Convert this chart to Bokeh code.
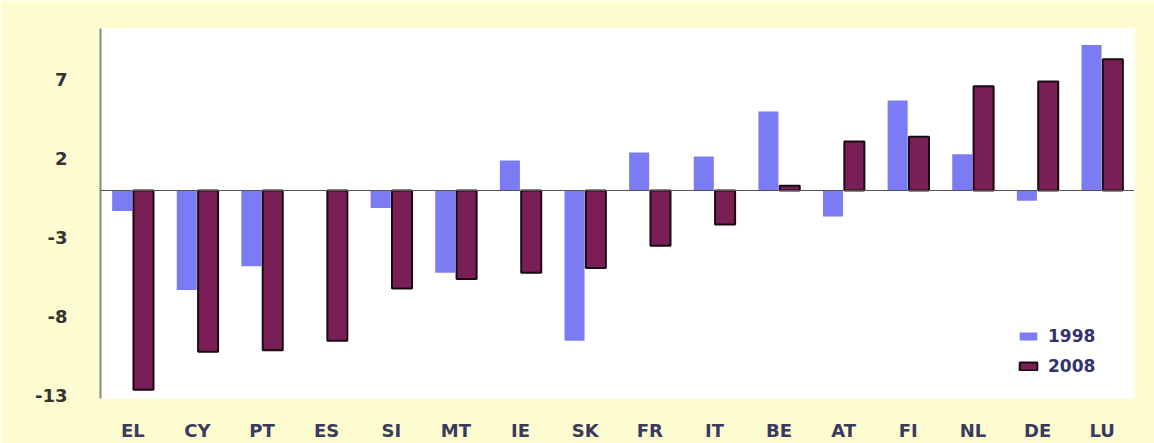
from bokeh.plotting import figure
from bokeh.models import (ColumnDataSource, FactorRange, Range1d, FixedTicker, Span, Legend,
                          LegendItem, PrintfTickFormatter, BoxAnnotation)
from bokeh.transform import dodge
from bokeh.embed import file_html
from bokeh.resources import INLINE

countries = ["EL", "CY", "PT", "ES", "SI", "MT", "IE", "SK", "FR", "IT", "BE", "AT", "FI", "NL", "DE", "LU"]
values_1998 = [-1.3, -6.3, -4.8, 0.0, -1.1, -5.2, 1.9, -9.5, 2.4, 2.15, 5.0, -1.65, 5.7, 2.3, -0.65, 9.2]
values_2008 = [-12.6, -10.2, -10.1, -9.5, -6.2, -5.6, -5.2, -4.9, -3.5, -2.15, 0.3, 3.1, 3.4, 6.6, 6.9, 8.3]
y_ticks = [-13, -8, -3, 2, 7]

source = ColumnDataSource(dict(cat=countries, y1998=values_1998, y2008=values_2008))

CREAM = "#FDFBD0"
p = figure(x_range=FactorRange(*countries), y_range=Range1d(-13.16, 10.25),
           width=1154, height=443, output_backend="svg", toolbar_location=None,
           min_border_left=100, min_border_right=20, min_border_top=28, min_border_bottom=45)
p.border_fill_color = CREAM
p.background_fill_color = "white"
p.outline_line_color = None
p.xgrid.grid_line_color = None
p.ygrid.grid_line_color = None
p.x_range.range_padding = 0
p.x_range.factor_padding = 0

# white outer margins around the cream panel
for l, r, t, b in [(0, 1154, 0, 8), (0, 7, 0, 443), (1150, 1154, 0, 443), (0, 1154, 438, 443)]:
    p.add_layout(BoxAnnotation(left=l, right=r, top=t, bottom=b, left_units="canvas",
                               right_units="canvas", top_units="canvas", bottom_units="canvas",
                               fill_color="white", fill_alpha=1, line_color=None, level="underlay"))

r1 = p.vbar(x=dodge("cat", -0.165, range=p.x_range), top="y1998", bottom=0, width=0.31,
            source=source, fill_color="#7B7BF4", line_color=None)
r2 = p.vbar(x=dodge("cat", 0.165, range=p.x_range), top="y2008", bottom=0, width=0.31,
            source=source, fill_color="#7A1F55", line_color="#1a0a14", line_width=2)

p.add_layout(Span(location=0, dimension="width", line_color="#555555", line_width=1.2))

p.yaxis.ticker = FixedTicker(ticks=y_ticks)
p.yaxis.formatter = PrintfTickFormatter(format="%d")
p.yaxis.axis_line_color = "#8a8a80"
p.yaxis.axis_line_width = 2
p.yaxis.major_tick_line_color = None
p.yaxis.minor_tick_line_color = None
p.yaxis.major_label_text_font = "DejaVu Sans"
p.yaxis.major_label_text_font_style = "bold"
p.yaxis.major_label_text_font_size = "18px"
p.yaxis.major_label_text_color = "#333333"
p.yaxis.major_label_standoff = 27

p.xaxis.axis_line_color = None
p.xaxis.major_tick_line_color = None
p.xaxis.minor_tick_line_color = None
p.xaxis.major_label_text_font = "DejaVu Sans"
p.xaxis.major_label_text_font_style = "bold"
p.xaxis.major_label_text_font_size = "18px"
p.xaxis.major_label_text_color = "#3a3a5e"
p.xaxis.major_label_standoff = 15

legend = Legend(items=[LegendItem(label="1998", renderers=[r1]), LegendItem(label="2008", renderers=[r2])],
                location=(917, 22), background_fill_alpha=0, border_line_color=None,
                label_text_font="DejaVu Sans", label_text_font_style="bold", label_text_font_size="17px",
                label_text_color="#33336b", glyph_width=22, glyph_height=10, spacing=10,
                label_standoff=9, padding=4)
p.add_layout(legend, "center")

open("out.html", "w").write(file_html(p, INLINE))
